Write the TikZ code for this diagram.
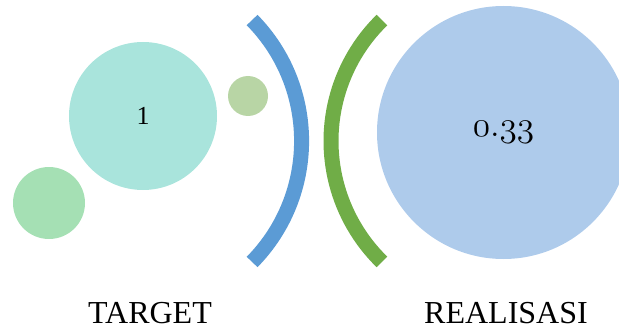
\documentclass[tikz,border=0pt]{standalone}
\usepackage{fontspec}
\setmainfont{Liberation Serif}
\usepackage{xcolor}
\usepackage{tikz}
\definecolor{tealfill}{HTML}{A9E4DC}
\definecolor{mintfill}{HTML}{A5E0B4}
\definecolor{olivefill}{HTML}{B8D5A5}
\definecolor{skyfill}{HTML}{AECBEB}
\definecolor{bluearc}{HTML}{5B9BD5}
\definecolor{greenarc}{HTML}{70AD47}
% old style figures from cmmi, the period sits in slot 58 there
\newcommand{\oldnum}[2]{\scalebox{1.42}{\usefont{OML}{cmm}{m}{it}\fontsize{24.88}{26}\selectfont #1\char58 #2}}
\tikzstyle{bubble} = [circle, inner sep=0pt, text centered, draw=none]
\tikzstyle{bracket} = [line width=15pt]
\tikzstyle{caption} = [font=\fontsize{32}{34}\selectfont, text depth=0pt]

\begin{document}
\begin{tikzpicture}[x=1pt, y=1pt]
    \useasboundingbox (0,0) rectangle (619,330);
    \clip (0,0) rectangle (619,330);
    \node[bubble, fill=tealfill, minimum size=148pt, font=\fontsize{26}{28}\selectfont] (target) at (143,214) {1};
    \node[bubble, fill=mintfill, minimum size=72pt] (dotleft) at (49,127) {};
    \node[bubble, fill=olivefill, minimum size=40pt] (dotright) at (248,234) {};
    \node[bubble, fill=skyfill, minimum size=253pt] (real) at (503.5,197.5) {\oldnum{0}{33}};

    \draw[bracket, bluearc] (129,189) ++(44.5:172.6) arc[start angle=44.5, end angle=-44.5, radius=172.6];
    \draw[bracket, greenarc] (500,189) ++(134.3:169) arc[start angle=134.3, end angle=225.7, radius=169];

    \node[caption] (targetlabel) at (150,17) {TARGET};
    \node[caption] (reallabel) at (506,17) {REALISASI};
\end{tikzpicture}
\end{document}
